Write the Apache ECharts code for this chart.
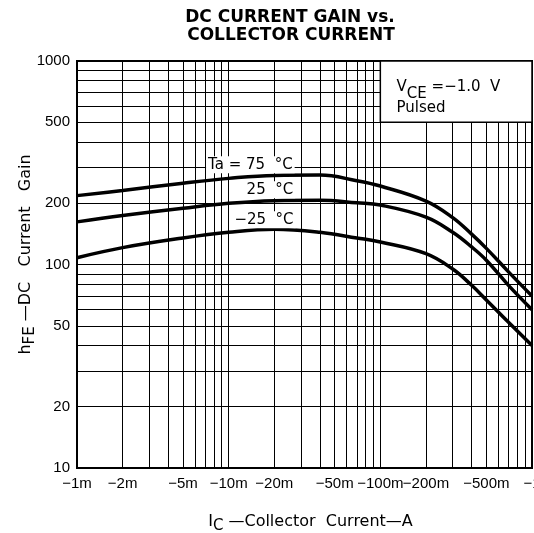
<!DOCTYPE html>
<html>
<head>
<meta charset="utf-8">
<script src="https://cdn.jsdelivr.net/npm/echarts@6/dist/echarts.min.js"></script>
<style>
html, body { margin: 0; padding: 0; background: #fff; }
#chart { width: 534px; height: 533px; }
</style>
</head>
<body>
<div id="chart"></div>
<script>
// collector current (A, magnitude) and hFE
var currents = [0.001, 0.002, 0.005, 0.01, 0.02, 0.04, 0.07, 0.1, 0.2, 0.3, 0.4, 0.5, 0.7, 1.0];
var gain75 = [218, 231, 251, 265, 274, 275, 258, 243, 205, 170, 141, 120, 92, 70];
var gain25 = [162, 174, 189, 200, 206, 207, 201, 196, 171, 144, 122, 105, 79, 60];
var gainM25 = [108, 121, 135, 144, 149, 144, 135, 129, 113, 95, 79, 67, 52, 40];

var xLabelValues = [0.001, 0.002, 0.005, 0.01, 0.02, 0.05, 0.1, 0.2, 0.5, 1];
var xLabelText = ['−1m', '−2m', '−5m', '−10m', '−20m', '−50m', '−100m', '−200m', '−500m', '−1'];
var yLabelValues = [10, 20, 50, 100, 200, 500, 1000];

var font = 'Liberation Sans, Arial, sans-serif';
var wide = 'DejaVu Sans, sans-serif';

// log paper lines at 1..9 of every decade
function decadeLines(from, to) {
    var out = [];
    for (var d = from; d < to; d *= 10) {
        for (var k = 1; k < 10; k++) out.push(+(k * d).toPrecision(3));
    }
    out.push(to);
    return out;
}

function pairs(ys) {
    return currents.map(function (c, i) { return [c, ys[i]]; });
}

function xText(v) {
    for (var i = 0; i < xLabelValues.length; i++) {
        if (Math.abs(xLabelValues[i] - v) / v < 1e-3) return xLabelText[i];
    }
    return '';
}

function curveLabel(text, x, y) {
    return {
        symbol: 'rect', symbolSize: 0, silent: true,
        data: [{ coord: [x, y] }],
        label: {
            show: true, position: 'inside', formatter: text,
            color: '#000', fontFamily: wide, fontSize: 15,
            backgroundColor: '#fff', padding: [1, 2]
        }
    };
}

// main text and a subscript a few px lower
var nameRich = {
    n: { fontFamily: wide, fontSize: 16, color: '#000', verticalAlign: 'top', lineHeight: 18 },
    s: { fontFamily: wide, fontSize: 15, color: '#000', verticalAlign: 'top', lineHeight: 18, padding: [5, 0, 0, 0] }
};

var lineStyle = { color: '#000', width: 3.5 };

var myChart = echarts.init(document.getElementById('chart'));
var option = {
    animation: false,
    graphic: [
        { type: 'text', x: 290, y: 18, style: { text: 'DC CURRENT GAIN vs.', align: 'center', verticalAlign: 'middle', font: 'bold 17px ' + wide, fill: '#000' } },
        { type: 'text', x: 291, y: 36, style: { text: 'COLLECTOR CURRENT', align: 'center', verticalAlign: 'middle', font: 'bold 17px ' + wide, fill: '#000' } }
    ],
    grid: { left: 77, right: 2, top: 61, bottom: 65, outerBoundsMode: 'none', show: true, borderColor: '#000', borderWidth: 2 },
    xAxis: {
        type: 'log', logBase: 10, min: 0.001, max: 1,
        axisLine: { show: true, lineStyle: { color: '#000', width: 2 } },
        axisTick: { show: false, customValues: decadeLines(0.001, 1) },
        splitLine: { show: true, lineStyle: { color: '#000', width: 1 } },
        axisLabel: {
            customValues: xLabelValues, formatter: xText,
            color: '#000', fontFamily: font, fontSize: 15, margin: 8
        },
        name: '{n|I}{s|C}{n| —Collector  Current—A}',
        nameLocation: 'middle', nameGap: 46, nameMoveOverlap: false,
        nameTextStyle: { rich: nameRich, padding: [0, 0, 0, 12] }
    },
    yAxis: {
        type: 'log', logBase: 10, min: 10, max: 1000,
        axisLine: { show: true, lineStyle: { color: '#000', width: 2 } },
        axisTick: { show: false, customValues: decadeLines(10, 1000) },
        splitLine: { show: true, lineStyle: { color: '#000', width: 1 } },
        axisLabel: {
            customValues: yLabelValues, formatter: function (v) { return String(v); },
            color: '#000', fontFamily: font, fontSize: 15, margin: 7
        },
        name: '{n|h}{s|FE}{n| —DC   Current   Gain}',
        nameLocation: 'middle', nameRotate: 90, nameGap: 41, nameMoveOverlap: false,
        nameTextStyle: { rich: nameRich, padding: [0, 0, 0, 20] }
    },
    series: [
        {
            name: 'Ta=75', type: 'line', data: pairs(gain75), smooth: 0.4,
            symbol: 'none', lineStyle: lineStyle, z: 3,
            markPoint: curveLabel('Ta = 75  °C', 0.0139, 309),
            markArea: {
                silent: true,
                itemStyle: { color: '#fff', borderColor: '#000', borderWidth: 1.5 },
                label: {
                    show: true, position: [17, 19], align: 'left', verticalAlign: 'top',
                    formatter: '{n|V}{s|CE}{n| =−1.0  V}\n{p|Pulsed}',
                    rich: {
                        n: { fontFamily: wide, fontSize: 15, color: '#000', verticalAlign: 'top', lineHeight: 12 },
                        s: { fontFamily: wide, fontSize: 15, color: '#000', verticalAlign: 'top', lineHeight: 12, padding: [7, 0, 0, 0] },
                        p: { fontFamily: wide, fontSize: 15, color: '#000', verticalAlign: 'bottom', lineHeight: 24 }
                    }
                },
                data: [[{ coord: [0.1, 500] }, { coord: [1, 1000] }]]
            }
        },
        {
            name: 'Ta=25', type: 'line', data: pairs(gain25), smooth: 0.4,
            symbol: 'none', lineStyle: lineStyle, z: 3,
            markPoint: curveLabel('25  °C', 0.0187, 233)
        },
        {
            name: 'Ta=-25', type: 'line', data: pairs(gainM25), smooth: 0.4,
            symbol: 'none', lineStyle: lineStyle, z: 3,
            markPoint: curveLabel('−25  °C', 0.0171, 166)
        }
    ]
};
myChart.setOption(option);
</script>
</body>
</html>
